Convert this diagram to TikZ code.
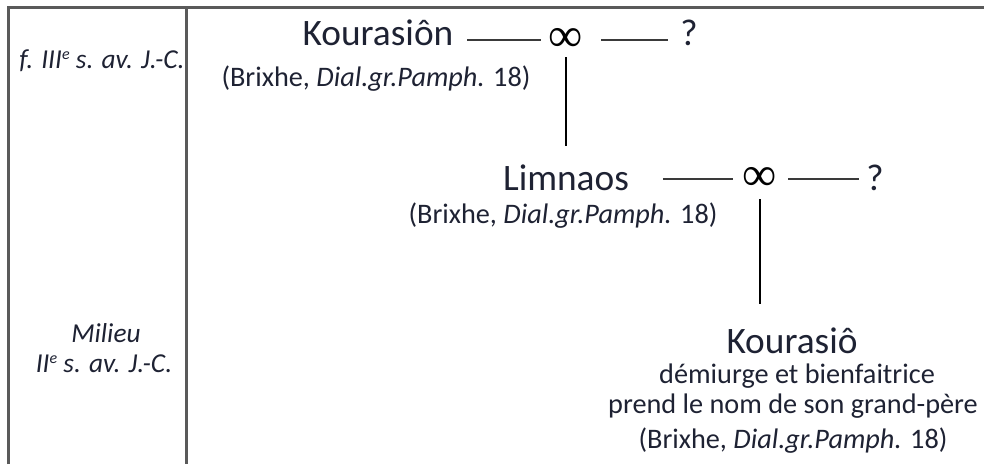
\documentclass[tikz,border=0pt]{standalone}
\usepackage{fontspec}
\setmainfont{Carlito}
\newfontfamily\symfont{Liberation Serif}
\usetikzlibrary{calc}
\definecolor{txt}{HTML}{1E2233}
\definecolor{framec}{HTML}{5A5A5A}
\definecolor{conn}{HTML}{3A3A3A}
\newcommand{\supe}{\raisebox{0.62ex}{\fontsize{12}{12}\selectfont e}}
\begin{document}
\begin{tikzpicture}[x=0.75pt,y=-0.75pt,
  every node/.style={inner sep=0pt, outer sep=0pt, text=txt},
  person/.style={font=\fontsize{28}{33}\selectfont, anchor=base},
  note/.style={font=\fontsize{21.2}{25}\selectfont, anchor=base},
  period/.style={font=\fontsize{20.5}{24}\selectfont\itshape, anchor=base},
  marr/.style={font=\symfont\fontsize{36}{40}\selectfont, text=black},
  framerule/.style={line width=2.25pt, draw=framec},
  link/.style={line width=1.1pt, draw=conn},
  descent/.style={line width=1.1pt, draw=black}]
\useasboundingbox (0,0) rectangle (984,464);
\coordinate (tl) at (8,7);
\coordinate (tr) at (984,7);
\coordinate (bl) at (8,464);
\coordinate (dt) at (186,7);
\coordinate (db) at (186,464);
\draw[framerule] (bl) -- (tl) -- (tr);
\draw[framerule] (dt) -- (db);
% periods
\node[period] (p1) at (102,68) {f. III\supe\ s. av. J.-C.};
\node[period] (p2a) at (106,342) {Milieu};
\node[period] (p2b) at (104,372) {II\supe\ s. av. J.-C.};
% generation 1
\node[person] (k1) at (378,45) {Kourasiôn};
\node[note] (b1) at (376,86) {(Brixhe, \textit{Dial.gr.Pamph.} 18)};
\node[marr] (m1) at (566,40) {∞};
\node[person] (q1) at (689,45) {?};
% generation 2
\node[person] (l) at (566,190) {Limnaos};
\node[note] (b2) at (563,223) {(Brixhe, \textit{Dial.gr.Pamph.} 18)};
\node[marr] (m2) at (760,179) {∞};
\node[person] (q2) at (875,190) {?};
% generation 3
\node[person] (k2) at (792,353) {Kourasiô};
\node[note] (d1) at (797,383) {démiurge et bienfaitrice};
\node[note] (d2) at (793,413) {prend le nom de son grand-père};
\node[note] (b3) at (793,448) {(Brixhe, \textit{Dial.gr.Pamph.} 18)};
% connectors
\draw[link] ($(k1.east |- m1.center)+(14,0)$) -- ($(m1.center)+(-25,0)$);
\draw[link] ($(m1.center)+(35,0)$) -- ($(q1.west |- m1.center)+(-12,0)$);
\draw[descent] ($(m1.center)+(0,17)$) -- ($(m1.center |- l.north)+(0,-18)$);
\draw[link] ($(l.east |- m2.center)+(34,0)$) -- ($(m2.center)+(-27,0)$);
\draw[link] ($(m2.center)+(28,0)$) -- ($(q2.west |- m2.center)+(-7,0)$);
\draw[descent] ($(m2.center)+(0,20)$) -- ($(m2.center |- k2.north)+(0,-23)$);
\end{tikzpicture}
\end{document}
